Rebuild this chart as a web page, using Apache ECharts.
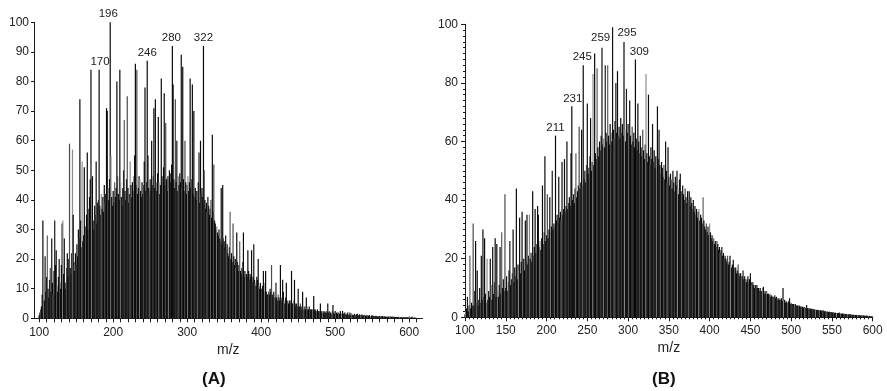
<!DOCTYPE html>
<html>
<head>
<meta charset="utf-8">
<script src="https://cdn.jsdelivr.net/npm/echarts@6/dist/echarts.min.js"></script>
<style>
  html, body { margin: 0; padding: 0; background: #fff; }
  #chart { width: 887px; height: 391px; }
</style>
</head>
<body>
<div id="chart"></div>
<script>
// Spectrum (A): relative abundance for every integer m/z starting at 100
const mzStartA = 100;
const abundanceA = [
  1, 2, 3, 4, 8, 33, 12, 6, 21, 9,
  14, 28, 10, 7, 13, 17, 9, 27, 12, 8,
  16, 33, 18, 23, 11, 9, 14, 20, 12, 10,
  18, 32, 33, 15, 27, 12, 10, 17, 22, 14,
  20, 59, 17, 15, 22, 57, 35, 19, 16, 22,
  18, 25, 21, 30, 27, 74, 33, 24, 53, 26,
  28, 51, 31, 25, 35, 56, 30, 37, 41, 47,
  84, 42, 48, 33, 30, 38, 35, 53, 32, 39,
  40, 84, 38, 35, 42, 37, 41, 36, 45, 39,
  42, 71, 70, 44, 40, 47, 100, 55, 41, 38,
  43, 39, 46, 41, 44, 80, 48, 42, 40, 84,
  46, 41, 38, 44, 50, 67, 43, 40, 47, 75,
  44, 39, 42, 53, 45, 41, 46, 43, 48, 55,
  86, 45, 84, 42, 44, 48, 47, 43, 41, 46,
  42, 45, 53, 78, 43, 46, 87, 55, 44, 42,
  47, 43, 60, 45, 48, 71, 44, 74, 46, 43,
  49, 68, 46, 42, 45, 81, 48, 44, 51, 76,
  45, 66, 47, 43, 48, 44, 50, 46, 49, 52,
  92, 79, 47, 44, 74, 46, 60, 43, 48, 45,
  49, 46, 89, 44, 85, 47, 43, 60, 46, 42,
  45, 48, 43, 46, 81, 44, 47, 79, 42, 70,
  41, 44, 40, 43, 38, 46, 56, 39, 60, 42,
  44, 41, 92, 50, 40, 37, 39, 36, 41, 38,
  35, 37, 40, 34, 62, 36, 52, 33, 32, 30,
  31, 29, 28, 30, 27, 26, 44, 25, 45, 27,
  26, 24, 28, 23, 25, 22, 21, 24, 36, 20,
  22, 19, 32, 21, 18, 20, 17, 29, 19, 16,
  18, 26, 16, 15, 17, 19, 29, 14, 16, 13,
  15, 14, 23, 16, 13, 15, 14, 23, 12, 14,
  25, 13, 12, 11, 14, 13, 20, 11, 10, 12,
  10, 9, 11, 16, 9, 12, 16, 9, 8, 8,
  9, 8, 10, 9, 18, 8, 7, 9, 8, 7,
  12, 7, 6, 8, 7, 6, 18, 7, 6, 13,
  9, 6, 5, 7, 12, 6, 5, 5, 6, 5,
  6, 16, 5, 5, 6, 13, 5, 4, 5, 4,
  10, 4, 4, 5, 4, 3, 9, 4, 3, 4,
  3, 7, 4, 3, 3, 4, 3, 3, 3, 3,
  3, 7.5, 3, 3, 2.5, 2, 3, 2.5, 2, 2.5,
  5, 2.5, 2, 2.5, 2, 2.5, 2, 2, 2.5, 2,
  5, 2, 2.5, 2, 2, 1.5, 2.5, 4.5, 2, 1.5,
  2.5, 1.5, 2, 1.5, 2, 1.5, 1.5, 2.5, 1.5, 1.5,
  2.5, 1.5, 1.5, 2, 1.5, 1.2, 1.5, 2, 1.2, 1.2,
  2, 1.2, 1.8, 1.2, 1.2, 1, 1.5, 1.2, 1, 1.4,
  1.5, 1, 1, 1.4, 1, 1, 1.3, 1, 0.9, 1.1,
  1.2, 0.9, 0.8, 1.1, 0.8, 0.8, 1.1, 0.8, 0.7, 0.9,
  1, 0.7, 0.9, 0.7, 0.7, 0.9, 0.7, 0.6, 0.7, 0.6,
  0.8, 0.6, 0.7, 0.6, 0.8, 0.6, 0.5, 0.7, 0.5, 0.5,
  0.6, 0.5, 0.5, 0.6, 0.5, 0.6, 0.5, 0.4, 0.6, 0.4,
  0.5, 0.4, 0.4, 0.5, 0.4, 0.4, 0.4, 0.5, 0.3, 0.4,
  0.4, 0.3, 0.3, 0.4, 0.3, 0.3, 0.3, 0.4, 0.3, 0.3,
  0.8, 0.3, 0.3, 0.3, 0.5, 0.3, 0.2, 0.2, 0.3, 0.2
];
const labelledPeaksA = [170, 196, 246, 280, 322];

// Spectrum (B): relative abundance for every integer m/z starting at 100
const mzStartB = 100;
const abundanceB = [
  1, 2, 3, 7, 2, 4, 21, 3, 5, 4,
  32, 4, 9, 26, 5, 16, 4, 6, 10, 5,
  21, 6, 30, 7, 27, 8, 5, 20, 6, 9,
  7, 20, 11, 6, 24, 8, 12, 27, 7, 25,
  9, 7, 11, 24, 8, 29, 10, 13, 9, 42,
  10, 14, 9, 12, 16, 26, 11, 13, 15, 30,
  12, 17, 14, 44, 13, 18, 16, 34, 15, 19,
  36, 17, 20, 16, 33, 19, 35, 18, 21, 35,
  20, 22, 19, 43, 21, 24, 37, 22, 25, 38,
  35, 24, 26, 23, 27, 45, 25, 29, 55, 26,
  28, 42, 27, 30, 41, 29, 31, 50, 30, 32,
  31, 62, 33, 35, 32, 48, 34, 36, 33, 53,
  35, 37, 54, 36, 38, 60, 37, 39, 41, 38,
  56, 72, 40, 42, 39, 44, 56, 41, 43, 45,
  65, 44, 46, 64, 45, 86, 47, 50, 46, 52,
  73, 49, 51, 55, 68, 50, 53, 83, 52, 90,
  56, 54, 85, 58, 55, 60, 57, 62, 92, 59,
  61, 58, 86, 63, 60, 86, 62, 59, 66, 63,
  60, 99, 64, 61, 67, 80, 63, 84, 62, 65,
  61, 68, 63, 66, 62, 94, 64, 60, 78, 63,
  66, 61, 74, 62, 59, 65, 60, 63, 58, 88,
  61, 57, 73, 60, 56, 62, 58, 55, 64, 57,
  54, 59, 83, 56, 53, 76, 55, 52, 58, 54,
  66, 53, 57, 51, 55, 50, 72, 54, 64, 52,
  49, 53, 51, 48, 52, 47, 60, 50, 46, 58,
  48, 45, 49, 47, 44, 50, 46, 43, 48, 45,
  50, 44, 42, 47, 49, 43, 41, 45, 42, 40,
  44, 41, 39, 43, 40, 43, 38, 41, 39, 37,
  40, 36, 38, 35, 37, 34, 36, 37, 33, 35,
  34, 32, 41, 33, 31, 30, 32, 29, 31, 28,
  32, 29, 27, 28, 26, 27, 25, 26, 24, 26,
  25, 23, 24, 22, 23, 24, 21, 22, 20, 21,
  20, 19, 21, 18, 19, 21, 18, 17, 18, 19.6,
  17, 16, 17, 15, 16, 18, 15, 14, 15, 14,
  14, 16, 13, 14, 13, 12, 13, 14, 12, 13,
  15, 12, 11, 12, 11, 10, 11, 10, 11, 10,
  10, 9, 10, 9, 9, 10, 10.4, 8, 9, 8,
  9, 8, 8, 7.5, 8, 7, 7.5, 7, 7, 7,
  7.5, 6.5, 7, 6.5, 6, 6.5, 6, 6, 6.5, 5.5,
  10, 5.5, 6, 5, 5.5, 5, 5, 5.5, 6.5, 4.5,
  5, 4.5, 4.5, 4.5, 4, 4.5, 4, 4, 4, 3.8,
  4, 3.6, 3.8, 3.5, 3.6, 3.3, 3.5, 3.2, 3.3, 4.2,
  3.1, 3, 3.2, 2.9, 3, 2.8, 2.9, 2.7, 2.8, 2.6,
  2.7, 2.5, 2.6, 2.4, 2.5, 2.3, 2.4, 2.2, 2.3, 2.5,
  2.2, 2, 2.1, 2, 1.9, 2, 1.8, 1.9, 1.7, 1.8,
  1.7, 1.6, 1.7, 1.5, 1.6, 1.5, 1.4, 1.5, 1.4, 1.6,
  1.3, 1.4, 1.2, 1.3, 1.2, 1.1, 1.2, 1.1, 1.1, 1.0,
  1.0, 1.1, 0.9, 1.0, 0.9, 0.9, 0.8, 0.9, 0.8, 0.8,
  0.8, 0.7, 0.7, 0.8, 0.7, 0.6, 0.7, 0.6, 0.6, 0.6,
  0.5, 0.6, 0.5, 0.5, 0.5, 0.4, 0.5, 0.4, 0.4, 0.4,
  0.3
];
const labelledPeaksB = [211, 231, 245, 259, 295, 309];

// Axis tick labels
const xTickLabelsA = [100, 200, 300, 400, 500, 600];
const yTickLabelsA = [0, 10, 20, 30, 40, 50, 60, 70, 80, 90, 100];
const xTickLabelsB = [100, 150, 200, 250, 300, 350, 400, 450, 500, 550, 600];
const yTickLabelsB = [0, 20, 40, 60, 80, 100];

// Small nudges so peak labels sit where they read best
const labelNudgeA = { 170: [9, 0], 196: [-2, 0], 246: [0, 0], 280: [-1, 0], 322: [0, 0] };
const labelNudgeB = { 211: [0, 0], 231: [1, 0], 245: [-1, 0], 259: [6, -8], 295: [3, -1], 309: [4, 0] };

const FONT = "'Liberation Sans', Arial, Helvetica, sans-serif";
const INK = '#1a1a1a';
// Streaky halftone look: mostly black lines with an occasional grey one
const lineShades = ['#0a0a0a', '#0a0a0a', '#4a4a4a', '#0a0a0a', '#111111', '#0a0a0a', '#8c8c8c', '#0a0a0a', '#1a1a1a', '#0a0a0a', '#0a0a0a', '#5e5e5e', '#0a0a0a'];

function buildSeriesData(start, values, labelled, nudge) {
  return values.map((v, i) => {
    const mz = start + i;
    const item = { value: [mz, v] };
    if (labelled.indexOf(mz) >= 0) {
      item.label = {
        show: true, position: 'top', distance: 2,
        formatter: String(mz), offset: nudge[mz] || [0, 0],
        fontFamily: FONT, fontSize: 11.5, color: '#222'
      };
      item.itemStyle = { color: '#0a0a0a' };
    }
    return item;
  });
}

// Tick positions every 10 units along the (A) m/z axis
const minorTicksA = [];
for (let t = xTickLabelsA[0]; t <= 610; t += 10) minorTicksA.push(t);

const axisLineStyle = { color: INK, width: 1 };
const labelStyle = { fontFamily: FONT, fontSize: 12, color: '#222' };

const chart = echarts.init(document.getElementById('chart'), null, { renderer: 'canvas' });
chart.setOption({
  animation: false,
  backgroundColor: '#ffffff',
  grid: [
    { left: 34, top: 22.3, width: 388.5, height: 296 },
    { left: 465, top: 24.3, width: 407.7, height: 293 }
  ],
  xAxis: [
    {
      gridIndex: 0, type: 'value', min: 93, max: 618,
      axisLine: { lineStyle: axisLineStyle },
      axisTick: { customValues: minorTicksA, length: 4, lineStyle: axisLineStyle },
      axisLabel: Object.assign({ customValues: xTickLabelsA, margin: 8 }, labelStyle),
      splitLine: { show: false },
      name: 'm/z', nameLocation: 'middle', nameGap: 24,
      nameTextStyle: { fontFamily: FONT, fontSize: 14, color: '#222' }
    },
    {
      gridIndex: 1, type: 'value',
      min: xTickLabelsB[0], max: xTickLabelsB[xTickLabelsB.length - 1], interval: 50,
      axisLine: { lineStyle: axisLineStyle },
      axisTick: { length: 4, lineStyle: axisLineStyle },
      minorTick: { show: true, splitNumber: 10, length: 2, lineStyle: axisLineStyle },
      axisLabel: Object.assign({ margin: 7 }, labelStyle),
      splitLine: { show: false },
      name: 'm/z', nameLocation: 'middle', nameGap: 24,
      nameTextStyle: { fontFamily: FONT, fontSize: 14, color: '#222' }
    }
  ],
  yAxis: [
    {
      gridIndex: 0, type: 'value',
      min: yTickLabelsA[0], max: yTickLabelsA[yTickLabelsA.length - 1], interval: 10,
      axisLine: { show: true, lineStyle: axisLineStyle },
      axisTick: { show: true, length: 3, lineStyle: axisLineStyle },
      axisLabel: Object.assign({ margin: 5 }, labelStyle),
      splitLine: { show: false }
    },
    {
      gridIndex: 1, type: 'value',
      min: yTickLabelsB[0], max: yTickLabelsB[yTickLabelsB.length - 1], interval: 20,
      axisLine: { show: true, lineStyle: axisLineStyle },
      axisTick: { show: true, length: 4, lineStyle: axisLineStyle },
      minorTick: { show: true, splitNumber: 10, length: 2, lineStyle: axisLineStyle },
      axisLabel: Object.assign({ margin: 7 }, labelStyle),
      splitLine: { show: false }
    }
  ],
  series: [
    {
      type: 'bar', xAxisIndex: 0, yAxisIndex: 0, barWidth: 1.2,
      data: buildSeriesData(mzStartA, abundanceA, labelledPeaksA, labelNudgeA),
      itemStyle: { color: p => lineShades[p.dataIndex % lineShades.length] },
      emphasis: { disabled: true }
    },
    {
      type: 'bar', xAxisIndex: 1, yAxisIndex: 1, barWidth: 1.2,
      data: buildSeriesData(mzStartB, abundanceB, labelledPeaksB, labelNudgeB),
      itemStyle: { color: p => lineShades[(p.dataIndex + 5) % lineShades.length] },
      emphasis: { disabled: true }
    }
  ],
  graphic: [
    { type: 'text', left: 202, top: 371, style: { text: '(A)', font: "bold 17px " + FONT, fill: '#111' } },
    { type: 'text', left: 652, top: 371, style: { text: '(B)', font: "bold 17px " + FONT, fill: '#111' } }
  ]
});
</script>
</body>
</html>
